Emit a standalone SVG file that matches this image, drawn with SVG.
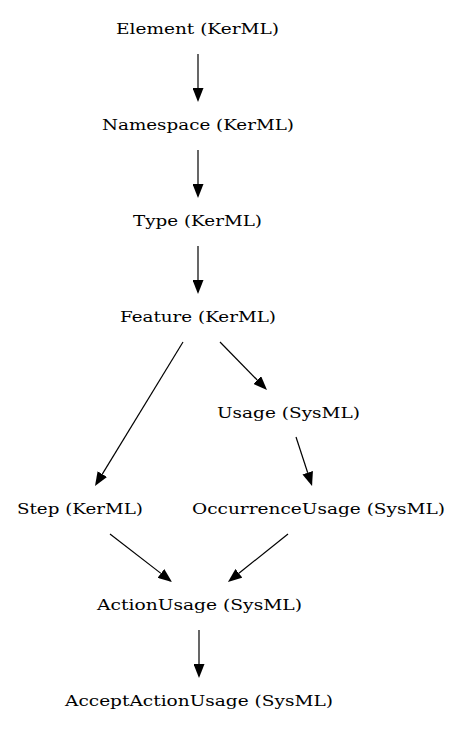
<svg xmlns="http://www.w3.org/2000/svg" width="461" height="731" viewBox="0 0 461 731">
<style>
text{font-family:"DejaVu Serif","Liberation Serif",serif;font-size:15.5px;fill:#000;text-anchor:middle}
.e{stroke:#000;stroke-width:1.2;fill:none;marker-end:url(#ah)}
</style>
<defs>
<marker id="ah" markerUnits="userSpaceOnUse" markerWidth="14" markerHeight="11" refX="0" refY="5.5" orient="auto" viewBox="0 0 14 11">
<path d="M0,0 L14,5.5 L0,11 z" fill="#000"/>
</marker>
</defs>
<rect width="461" height="731" fill="#fff"/>
<g id="connectors">
<line class="e" x1="198" y1="54" x2="198" y2="88"/>
<line class="e" x1="198" y1="150" x2="198" y2="184"/>
<line class="e" x1="198" y1="246" x2="198" y2="280"/>
<line class="e" x1="183" y1="342" x2="102.3" y2="474.1"/>
<line class="e" x1="220" y1="342" x2="257.2" y2="380"/>
<line class="e" x1="296" y1="437" x2="307.7" y2="472.7"/>
<line class="e" x1="110" y1="534" x2="160.9" y2="573.4"/>
<line class="e" x1="288" y1="534" x2="238.9" y2="573.25"/>
<line class="e" x1="199" y1="630" x2="199" y2="664"/>
</g>
<g id="element"><text x="197.5" y="34" textLength="163" lengthAdjust="spacingAndGlyphs">Element (KerML)</text></g>
<g id="namespace"><text x="198" y="130" textLength="192" lengthAdjust="spacingAndGlyphs">Namespace (KerML)</text></g>
<g id="type"><text x="197.5" y="226" textLength="129" lengthAdjust="spacingAndGlyphs">Type (KerML)</text></g>
<g id="feature"><text x="198" y="322" textLength="156" lengthAdjust="spacingAndGlyphs">Feature (KerML)</text></g>
<g id="usage"><text x="288.5" y="418" textLength="143" lengthAdjust="spacingAndGlyphs">Usage (SysML)</text></g>
<g id="step"><text x="80" y="514" textLength="126" lengthAdjust="spacingAndGlyphs">Step (KerML)</text></g>
<g id="occurrenceusage"><text x="318.5" y="514" textLength="253" lengthAdjust="spacingAndGlyphs">OccurrenceUsage (SysML)</text></g>
<g id="actionusage"><text x="199.5" y="610" textLength="205" lengthAdjust="spacingAndGlyphs">ActionUsage (SysML)</text></g>
<g id="acceptactionusage"><text x="199" y="706" textLength="268" lengthAdjust="spacingAndGlyphs">AcceptActionUsage (SysML)</text></g>
</svg>
